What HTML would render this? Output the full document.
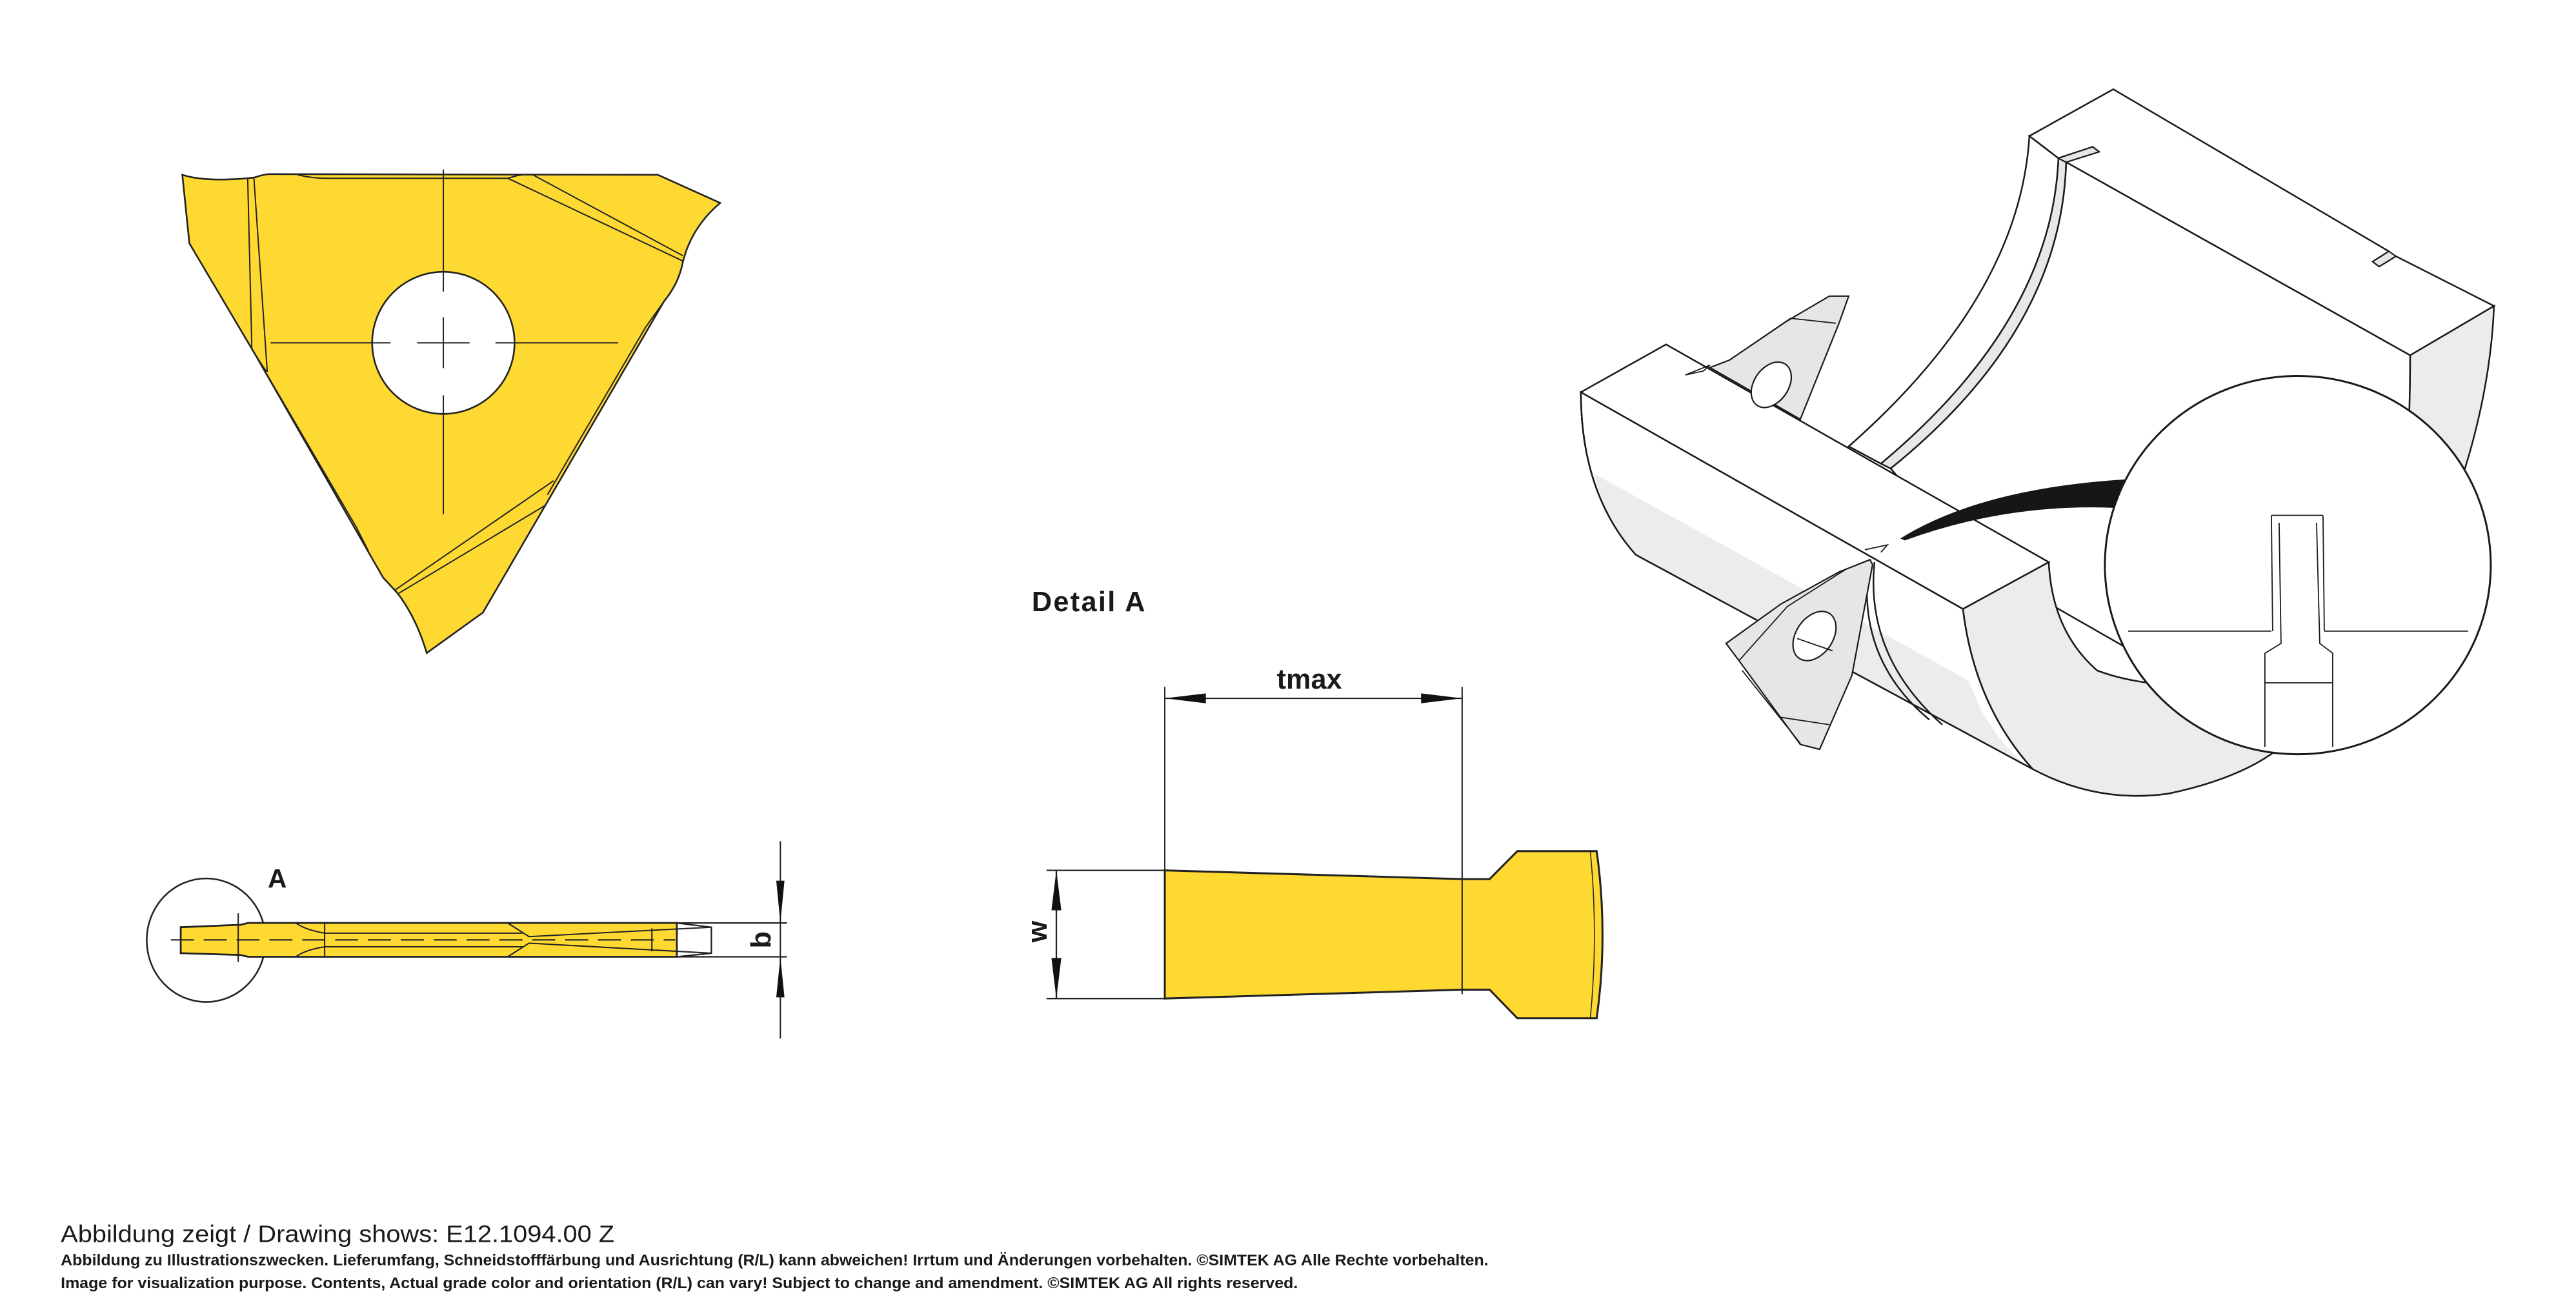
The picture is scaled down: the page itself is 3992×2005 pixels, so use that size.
<!DOCTYPE html>
<html><head><meta charset="utf-8"><style>
html,body{margin:0;padding:0;background:#fff;}
svg{display:block;}
text{font-family:"Liberation Sans",sans-serif;fill:#1a1a1a;}
</style></head><body>
<svg width="3992" height="2005" viewBox="0 0 1568 787.5" xmlns="http://www.w3.org/2000/svg">
<rect width="1568" height="787.5" fill="#fff"/>

<!-- Top-left insert -->
<g transform="translate(78.55,78.55) scale(0.2534,0.2140)" stroke="#222" fill="none">
  <path vector-effect="non-scaling-stroke" stroke-width="2.6" fill="#fed932" d="M128,130 Q185,152 300,138 Q320,130 335,128 L1270,130 L1420,210 Q1350,280 1330,380 Q1320,440 1285,490 L1000,1070 L850,1375 L715,1490 Q690,1390 645,1320 L610,1275 L305,645 L145,325 Z"/>
  <ellipse vector-effect="non-scaling-stroke" stroke-width="2.6" cx="755" cy="608" rx="171" ry="202" fill="#fff"/>
  <g vector-effect="non-scaling-stroke" stroke-width="2">
    <path vector-effect="non-scaling-stroke" d="M285,140 L295,625 M300,140 L332,690 M305,645 L330,690 M315,665 L545,1130 L575,1200 M405,130 Q440,140 475,140 L910,140 Q930,132 945,130 M910,140 L1330,375 M970,130 L1330,360 M1285,490 L1240,565 L1005,1040 M1020,1000 L640,1310 M1000,1070 L648,1320"/>
    <path vector-effect="non-scaling-stroke" d="M755,115 V462 M755,535 V680 M755,757 V1095 M340,608 H628 M692,608 H818 M880,608 H1175"/>
  </g>
</g>

<!-- Side view -->
<g stroke="#222" fill="none">
  <ellipse cx="125.5" cy="572.2" rx="36.2" ry="37.6" stroke-width="1"/>
  <path d="M110,564.3 L146.5,562.8 L151,561.7 L412,561.7 L412,582.3 L151,582.3 L146.5,581.2 L110,580.1 Z" fill="#fed932" stroke-width="1.1"/>
  <path d="M412,561.7 L479,561.7 M412,582.3 L479,582.3 M412,561.7 L433,564.3 L433,580.1 L412,582.3" stroke-width="0.9"/>
  <path d="M197.6,561.7 V582.3 M180,561.7 Q186,566 197.6,567.9 M180,582.3 Q186,578 197.6,576.2 M197.6,567.9 H318 M197.6,576.2 H318 M309,561.7 L322,570 L433,564.3 M309,582.3 L322,574 L433,580.1 M396.8,565 V579 M145,555.8 V585.5" stroke-width="0.8"/>
  <path d="M104,572 H411" stroke-width="0.8" stroke-dasharray="14,6"/>
  <path d="M475,512 V632" stroke-width="0.8"/>
  <path d="M475,561.7 L472.5,536 L477.5,536 Z M475,582.3 L472.5,607 L477.5,607 Z" fill="#111" stroke="none"/>
</g>
<text x="163" y="540" font-size="16" font-weight="bold">A</text>
<text x="0" y="0" font-size="17" font-weight="bold" transform="translate(469,572) rotate(-90)" text-anchor="middle">b</text>

<!-- Detail A -->
<text x="628" y="372" font-size="17" font-weight="bold" textLength="69">Detail A</text>
<text x="797" y="419" font-size="17" font-weight="bold" text-anchor="middle">tmax</text>
<g stroke="#222" fill="none">
  <path d="M709,529.7 L890,535 L906.7,535 L923.6,518 L971.9,518 Q979,569 971.9,619.7 L923.6,619.7 L906.7,602.3 L890,602.3 L709,607.7 Z" fill="#fed932" stroke-width="1.2"/>
  <path d="M968,518 Q973,569 968,619.7" stroke-width="0.6"/>
  <path d="M709,418 V607 M890,418 V605 M709,425 H890" stroke-width="0.8"/>
  <path d="M637,529.7 H709 M637,607.7 H709 M643,529.7 V607.7" stroke-width="0.9"/>
  <path d="M709,425 L734,422 L734,428 Z M890,425 L865,422 L865,428 Z M643,529.7 L640,554 L646,554 Z M643,607.7 L640,583 L646,583 Z" fill="#111" stroke="none"/>
</g>
<text x="0" y="0" font-size="17" font-weight="bold" transform="translate(637,567) rotate(-90)" text-anchor="middle">w</text>

<!-- 3D view -->
<g transform="translate(923,39.3) scale(0.3928,0.2998)" stroke="#1a1a1a" fill="none">
  <path vector-effect="non-scaling-stroke" stroke-width="2.5" fill="#ececec" d="M1385,590 L1515,490 Q1510,650 1470,820 L1380,820 Q1385,700 1385,590 Z"/>
  <path vector-effect="non-scaling-stroke" stroke-width="2.5" fill="#fff" d="M795,145 L840,190 Q830,520 565,810 L515,775 Q780,470 795,145 Z"/>
  <path vector-effect="non-scaling-stroke" stroke-width="2.5" fill="#e8e8e8" d="M840,190 L852,198 Q845,540 580,820 L565,810 Q830,520 840,190 Z"/>
  <path vector-effect="non-scaling-stroke" stroke-width="2.5" fill="#fff" d="M852,198 L1385,590 Q1385,700 1380,820 L1100,1300 L700,1000 L580,820 Q845,540 852,198 Z"/>
  <!-- top face with notches -->
  <path vector-effect="non-scaling-stroke" stroke-width="2.5" fill="#fff" d="M795,145 L925,50 L1352,379 L1327,400 L1337,410 L1363,389 L1515,490 L1385,590 L852,198 L903,177 L893,167 L840,190 Z"/>
  <path vector-effect="non-scaling-stroke" stroke-width="2" fill="#e6e6e6" d="M840,190 L893,167 L903,177 L852,198 Z M1352,379 L1327,400 L1337,410 L1363,389 Z"/>
  <!-- front block -->
  <path vector-effect="non-scaling-stroke" stroke-width="2.5" fill="#fff" d="M100,665 Q100,870 185,995 L800,1430 Q900,1500 1010,1480 Q1120,1450 1180,1390 L1180,1250 Q1000,1280 900,1230 Q830,1150 825,1010 L692,1105 L100,665 Z"/>
  <path fill="#ececec" stroke="none" d="M120,830 L700,1250 L720,1310 Q760,1400 800,1430 L185,995 Q140,930 120,830 Z"/>
  <path vector-effect="non-scaling-stroke" stroke-width="2.5" fill="#ececec" d="M692,1105 L825,1010 Q830,1150 900,1230 Q1000,1280 1180,1250 L1180,1390 Q1120,1450 1010,1480 Q900,1500 800,1430 Q710,1300 692,1105 Z"/>
  <path vector-effect="non-scaling-stroke" stroke-width="2.5" d="M100,665 Q100,870 185,995 L800,1430 M692,1105 Q710,1300 800,1430 M555,1010 Q540,1200 660,1340 M545,1025 Q530,1210 640,1330"/>
  <path vector-effect="non-scaling-stroke" stroke-width="2.5" fill="#fff" d="M100,665 L232,568 L825,1010 L692,1105 Z"/>
  <!-- upper insert -->
  <path vector-effect="non-scaling-stroke" stroke-width="2.2" fill="#e6e6e6" d="M300,615 L330,600 L420,520 L485,470 L515,470 L500,525 L440,720 L300,615 Z"/>
  <path vector-effect="non-scaling-stroke" stroke-width="1.8" d="M330,600 L425,515 L495,525 M262,630 L300,610 L290,622 Z"/>
  <ellipse vector-effect="non-scaling-stroke" stroke-width="2.2" cx="395" cy="650" rx="28" ry="48" transform="rotate(20 395 650)" fill="#fff"/>
  <!-- lower insert -->
  <path vector-effect="non-scaling-stroke" stroke-width="2.2" fill="#e6e6e6" d="M325,1175 L410,1095 L500,1030 L548,1005 L552,1015 L520,1240 L470,1390 L440,1380 L345,1210 Z"/>
  <path vector-effect="non-scaling-stroke" stroke-width="1.8" d="M345,1210 L420,1100 L510,1025 M410,1325 L485,1340 M350,1230 L440,1378"/>
  <ellipse vector-effect="non-scaling-stroke" stroke-width="2.2" cx="462" cy="1160" rx="30" ry="52" transform="rotate(20 462 1160)" fill="#fff"/>
  <path vector-effect="non-scaling-stroke" stroke-width="1.8" d="M435,1165 L490,1190 M540,985 L575,975 L565,990"/>
  <path fill="#161616" stroke="none" d="M595,962 Q720,860 945,842 L930,900 Q760,890 602,966 Z"/>
  <ellipse vector-effect="non-scaling-stroke" stroke-width="3" cx="1211" cy="1016" rx="299" ry="384" fill="#fff"/>
  <path vector-effect="non-scaling-stroke" stroke-width="1.8" d="M948,1150 H1170 M1252,1150 H1475 M1170,915 H1250 M1170,915 L1172,1150 M1250,915 L1252,1150 M1182,930 L1185,1175 L1160,1195 L1160,1385 M1240,930 L1245,1175 L1265,1195 L1265,1385 M1160,1255 H1265"/>
</g>

<!-- Footer -->
<text x="37" y="756" font-size="14.5" textLength="337" lengthAdjust="spacingAndGlyphs">Abbildung zeigt / Drawing shows: E12.1094.00 Z</text>
<text x="37" y="770" font-size="9.6" font-weight="bold" textLength="869" lengthAdjust="spacingAndGlyphs">Abbildung zu Illustrationszwecken. Lieferumfang, Schneidstofffärbung und Ausrichtung (R/L) kann abweichen! Irrtum und Änderungen vorbehalten. ©SIMTEK AG Alle Rechte vorbehalten.</text>
<text x="37" y="784" font-size="9.6" font-weight="bold" textLength="753" lengthAdjust="spacingAndGlyphs">Image for visualization purpose. Contents, Actual grade color and orientation (R/L) can vary! Subject to change and amendment. ©SIMTEK AG All rights reserved.</text>
</svg>
</body></html>
